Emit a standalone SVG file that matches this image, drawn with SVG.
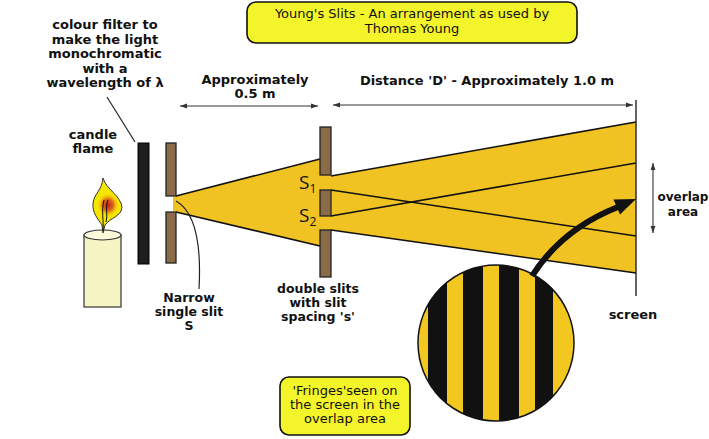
<svg xmlns="http://www.w3.org/2000/svg" width="709" height="439" viewBox="0 0 709 439">
<defs>
<style>
.lbl{font-family:"DejaVu Sans","Liberation Sans",sans-serif;font-weight:bold;font-size:13px;fill:#111;text-anchor:middle}
.sm{font-size:12.5px}
.xs{font-size:12px}
.ttl{font-family:"DejaVu Sans","Liberation Sans",sans-serif;font-size:13px;fill:#111;text-anchor:middle}
.sl{font-family:"Open Sans","Liberation Sans",sans-serif;font-size:19px;fill:#111}
.sub{font-size:12px}
.bar{fill:#8b6a48;stroke:#222;stroke-width:1.3}
.beam{fill:#f0c323}
.edge{stroke:#111;stroke-width:1.6;fill:none}
.dim{stroke:#333;stroke-width:1.1;fill:none}
.box{fill:#f4f42a;stroke:#111;stroke-width:1.6}
</style>
<marker id="ah" viewBox="0 0 10 10" refX="10" refY="5" markerWidth="7" markerHeight="7" orient="auto-start-reverse" markerUnits="userSpaceOnUse">
<path d="M0,1.5 L10,5 L0,8.5 Z" fill="#333"/>
</marker>
<radialGradient id="glow" cx="0.5" cy="0.5" r="0.5">
<stop offset="0" stop-color="#c0201a"/>
<stop offset="0.5" stop-color="#e06a1a"/>
<stop offset="1" stop-color="#f5e400" stop-opacity="0"/>
</radialGradient>
</defs>
<rect width="709" height="439" fill="#fff"/>

<g id="title">
<rect class="box" x="247" y="2" width="330" height="41" rx="9"/>
<text class="ttl" x="412" y="18">Young's Slits - An arrangement as used by</text>
<text class="ttl" x="412" y="33">Thomas Young</text>
</g>

<g id="beams">
<polygon class="beam" points="173,197 320,159 320,246 173,211"/>
<rect class="beam" x="318" y="170" width="13.5" height="65"/>
<polygon class="beam" points="331,176 636,122 636,273 331,230"/>
<line class="edge" x1="176" y1="196" x2="320" y2="159"/>
<line class="edge" x1="176" y1="212" x2="320" y2="246"/>
<line class="edge" x1="331" y1="176" x2="636" y2="122"/>
<line class="edge" x1="331" y1="190" x2="636" y2="236"/>
<line class="edge" x1="331" y1="216" x2="636" y2="163"/>
<line class="edge" x1="331" y1="230" x2="636" y2="273"/>
</g>

<g id="candle">
<rect x="84" y="235" width="37" height="72" fill="#f6f6c4" stroke="#333" stroke-width="1.2"/>
<ellipse cx="102.5" cy="235" rx="18.5" ry="5" fill="#fbfbdc" stroke="#333" stroke-width="1.2"/>
<path d="M103,178 C106,189 121,196 122,207 C122,216 110,218 105,225 L103,233 L102,225 C98,219 92,213 93,203 C94,194 102,190 103,178 Z" fill="#f5e600" stroke="#333" stroke-width="1"/>
<ellipse cx="108" cy="205" rx="11" ry="12" fill="url(#glow)"/>
<path d="M103,231 C104,220 101,212 104,200 M106,222 C108,214 105,207 108,200" stroke="#111" stroke-width="1" fill="none"/>
</g>

<g id="filter">
<rect x="138" y="143" width="11" height="121" fill="#1e1e1e" stroke="#000" stroke-width="1"/>
</g>

<g id="single-slit">
<rect class="bar" x="166" y="143" width="10" height="53"/>
<rect class="bar" x="166" y="212" width="10" height="51"/>
</g>

<g id="double-slit">
<rect class="bar" x="320" y="127" width="11" height="48"/>
<rect class="bar" x="320" y="190" width="11" height="26"/>
<rect class="bar" x="320" y="230" width="11" height="47"/>
<text class="sl" x="299" y="189">S<tspan class="sub" dy="4">1</tspan></text>
<text class="sl" x="299" y="222">S<tspan class="sub" dy="4">2</tspan></text>
</g>

<g id="screen">
<line x1="636" y1="100" x2="636" y2="296" stroke="#222" stroke-width="1.4"/>
</g>

<g id="fringes">
<circle cx="496" cy="343" r="78" fill="#f2c71f"/>
<clipPath id="cc"><circle cx="496" cy="343" r="78"/></clipPath>
<g clip-path="url(#cc)" fill="#111">
<rect x="428" y="260" width="19" height="170"/>
<rect x="463" y="260" width="20" height="170"/>
<rect x="499" y="260" width="20" height="170"/>
<rect x="535" y="260" width="18" height="170"/>
</g>
<circle cx="496" cy="343" r="78" fill="none" stroke="#111" stroke-width="1.5"/>
</g>

<g id="connectors">
<line class="dim" x1="180" y1="106" x2="318" y2="106" marker-start="url(#ah)" marker-end="url(#ah)"/>
<line class="dim" x1="333" y1="105" x2="633" y2="105" marker-start="url(#ah)" marker-end="url(#ah)"/>
<line class="dim" x1="653" y1="163" x2="653" y2="233" marker-start="url(#ah)" marker-end="url(#ah)"/>
<line x1="107" y1="97" x2="135" y2="142" stroke="#222" stroke-width="1.2"/>
<path d="M176,201 C192,210 202,235 199,289" stroke="#222" stroke-width="1.2" fill="none"/>
<path d="M532,276 Q562,229 618,207" stroke="#111" stroke-width="6" fill="none"/>
<polygon points="636,199 620,214.5 613.5,199.5" fill="#111"/>
</g>

<g id="labels">
<text class="lbl" x="105" y="29">colour filter to</text>
<text class="lbl" x="105" y="44">make the light</text>
<text class="lbl" x="105" y="58">monochromatic</text>
<text class="lbl" x="105" y="73">with a</text>
<text class="lbl" x="105" y="87">wavelength of λ</text>
<text class="lbl" x="93" y="139">candle</text>
<text class="lbl" x="93" y="153">flame</text>
<text class="lbl" x="255" y="84">Approximately</text>
<text class="lbl" x="255" y="98">0.5 m</text>
<text class="lbl" x="487" y="85">Distance 'D' - Approximately 1.0 m</text>
<text class="lbl sm" x="189" y="302">Narrow</text>
<text class="lbl sm" x="189" y="316">single slit</text>
<text class="lbl sm" x="189" y="330">S</text>
<text class="lbl sm" x="318" y="293">double slits</text>
<text class="lbl sm" x="318" y="307">with slit</text>
<text class="lbl sm" x="318" y="321">spacing 's'</text>
<text class="lbl xs" x="683" y="201">overlap</text>
<text class="lbl xs" x="683" y="216">area</text>
<text class="lbl" x="633" y="319">screen</text>
</g>

<g id="note">
<rect class="box" x="280" y="377" width="130" height="58" rx="9"/>
<text class="ttl" x="345" y="395" font-size="12">'Fringes'seen on</text>
<text class="ttl" x="345" y="409" font-size="12">the screen in the</text>
<text class="ttl" x="345" y="423" font-size="12">overlap area</text>
</g>
</svg>
